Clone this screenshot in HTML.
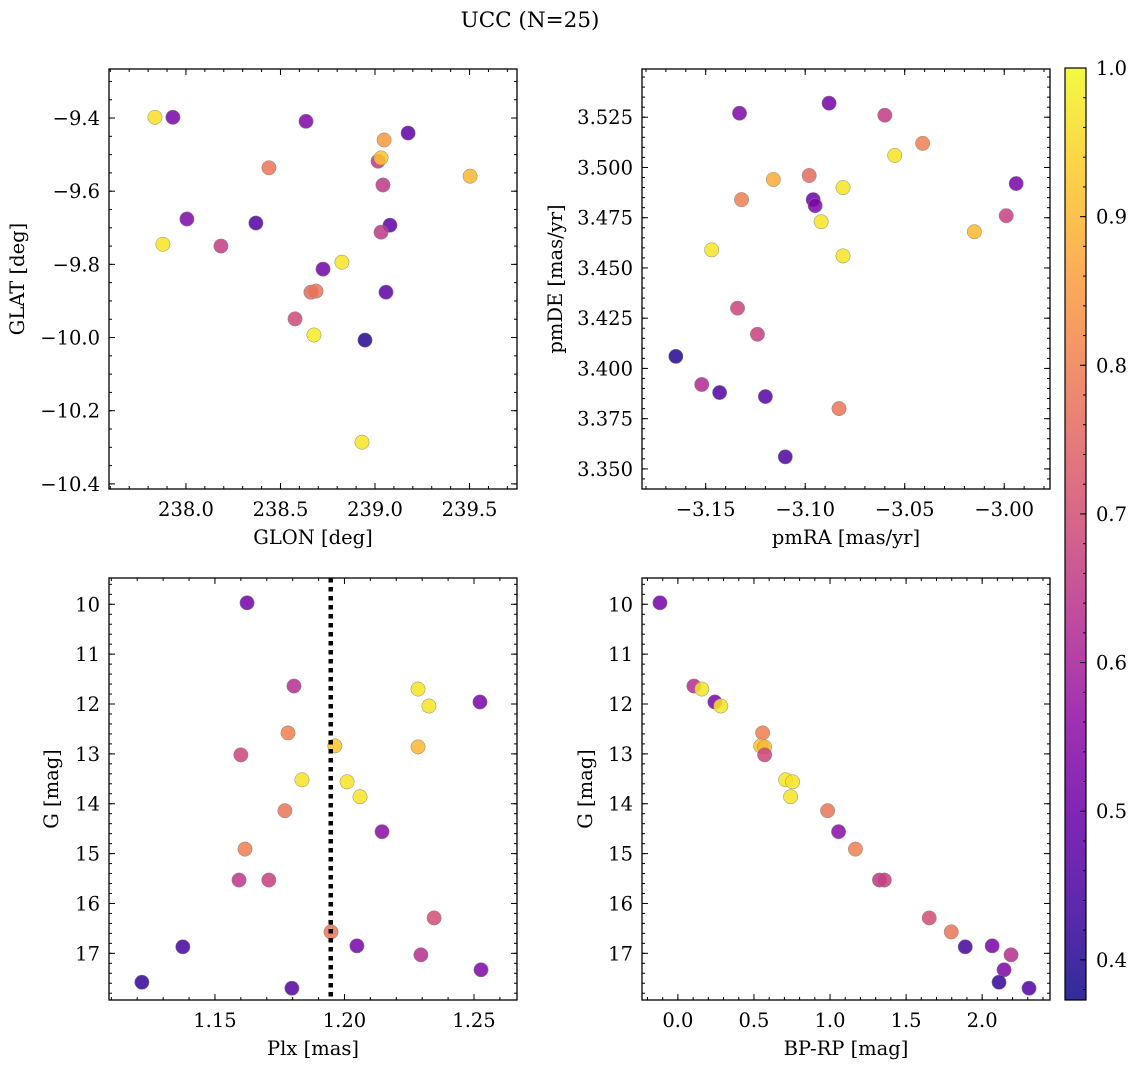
<!DOCTYPE html>
<html><head><meta charset="utf-8"><style>
body{margin:0;background:#fff;}
svg{display:block;font-family:"DejaVu Serif","Liberation Serif",serif;}
</style></head><body>
<svg id="fig" width="1136" height="1068" viewBox="0 0 1136 1068" xmlns="http://www.w3.org/2000/svg">
<defs>
<linearGradient id="plasma" x1="0" y1="1" x2="0" y2="0">
<stop offset="0" stop-color="#0d0887"/><stop offset="0.1" stop-color="#41049d"/><stop offset="0.2" stop-color="#6a00a8"/><stop offset="0.3" stop-color="#8f0da4"/><stop offset="0.4" stop-color="#b12a90"/><stop offset="0.5" stop-color="#cc4778"/><stop offset="0.6" stop-color="#e16462"/><stop offset="0.7" stop-color="#f2844b"/><stop offset="0.8" stop-color="#fca636"/><stop offset="0.9" stop-color="#fcce25"/><stop offset="1" stop-color="#f0f921"/>
</linearGradient>
</defs>
<text x="530" y="27" font-size="21.5" text-anchor="middle">UCC (N=25)</text>
</svg>
<script>
// Panel 1: GLON vs GLAT
const glonX=[237.836,237.931,238.635,239.048,239.175,238.439,239.016,239.032,239.042,239.503,238.005,238.370,239.079,239.032,237.878,238.185,238.825,238.725,238.661,238.688,239.058,238.577,238.677,238.947,238.931];
const glatY=[-9.398,-9.398,-9.409,-9.460,-9.441,-9.536,-9.518,-9.509,-9.583,-9.559,-9.676,-9.687,-9.693,-9.712,-9.745,-9.750,-9.794,-9.813,-9.876,-9.873,-9.876,-9.949,-9.993,-10.007,-10.286];
const probP1=[0.96,0.52,0.53,0.85,0.48,0.78,0.65,0.92,0.65,0.9,0.53,0.46,0.48,0.65,0.97,0.66,0.97,0.51,0.76,0.78,0.48,0.69,0.98,0.40,0.97];
// Panel 2: pmRA vs pmDE
const pmraX=[-3.133,-3.088,-3.060,-3.041,-3.055,-3.116,-3.098,-3.081,-3.132,-3.096,-3.095,-2.994,-2.999,-3.092,-3.147,-3.015,-3.081,-3.134,-3.124,-3.165,-3.152,-3.143,-3.120,-3.083,-3.110];
const pmdeY=[3.527,3.532,3.526,3.512,3.506,3.494,3.496,3.490,3.484,3.484,3.481,3.492,3.476,3.473,3.459,3.468,3.456,3.430,3.417,3.406,3.392,3.388,3.386,3.380,3.356];
const probP2=[0.53,0.51,0.66,0.8,0.97,0.88,0.76,0.97,0.8,0.5,0.53,0.52,0.67,0.97,0.97,0.9,0.97,0.68,0.67,0.40,0.62,0.46,0.47,0.78,0.46];
// Panel 3: Plx vs G
const plxX=[1.1624,1.1805,1.2284,1.2523,1.2326,1.1782,1.1963,1.2284,1.1600,1.1836,1.2010,1.2060,1.1770,1.2145,1.1616,1.1593,1.1708,1.2346,1.1948,1.2048,1.1376,1.2295,1.2527,1.1218,1.1797];
const gY3=[9.97,11.64,11.70,11.96,12.04,12.58,12.84,12.86,13.02,13.52,13.56,13.86,14.14,14.56,14.91,15.53,15.53,16.29,16.57,16.85,16.87,17.03,17.33,17.58,17.70];
const probP3=[0.51,0.63,0.97,0.52,0.97,0.8,0.92,0.9,0.68,0.97,0.97,0.97,0.78,0.55,0.8,0.65,0.67,0.7,0.78,0.52,0.44,0.63,0.53,0.42,0.46];
const plxLine=[1.1947];
// Panel 4: BP-RP vs G
const bprpX=[-0.118,0.105,0.157,0.243,0.282,0.557,0.544,0.570,0.570,0.708,0.754,0.741,0.984,1.056,1.167,1.325,1.357,1.652,1.797,2.066,1.889,2.190,2.144,2.111,2.308];
const gY4=[9.97,11.64,11.70,11.96,12.04,12.58,12.84,12.86,13.02,13.52,13.56,13.86,14.14,14.56,14.91,15.53,15.53,16.29,16.57,16.85,16.87,17.03,17.33,17.58,17.70];
const probP4=[0.51,0.63,0.97,0.52,0.97,0.8,0.92,0.9,0.68,0.97,0.97,0.97,0.78,0.55,0.8,0.65,0.67,0.7,0.78,0.52,0.44,0.63,0.53,0.42,0.46];
// tick labels
const ticks1x=[238.0,238.5,239.0,239.5], ticks1y=[-9.4,-9.6,-9.8,-10.0,-10.2,-10.4];
const ticks2x=[-3.15,-3.10,-3.05,-3.00], ticks2y=[3.350,3.375,3.400,3.425,3.450,3.475,3.500,3.525];
const ticks3x=[1.15,1.20,1.25], ticksGy=[10,11,12,13,14,15,16,17];
const ticks4x=[0.0,0.5,1.0,1.5,2.0];
const cbarTicks=[0.4,0.5,0.6,0.7,0.8,0.9,1.0];

const svg=document.getElementById('fig');
const NS='http://www.w3.org/2000/svg';
const FS=19.5;
const CMIN=0.373,CMAX=1.0;
const stops=[[13,8,135],[65,4,157],[106,0,168],[143,13,164],[177,42,144],[204,71,120],[225,100,98],[242,132,75],[252,166,54],[252,206,37],[240,249,33]];
function plasma(v){let t=Math.max(0,Math.min(1,(v-CMIN)/(CMAX-CMIN)))*10;let i=Math.min(9,Math.floor(t)),f=t-i;const a=stops[i],b=stops[i+1];return 'rgb('+a.map((c,k)=>Math.round(c+(b[k]-c)*f)).join(',')+')';}
function mk(tag,attrs,parent){const e=document.createElementNS(NS,tag);for(const k in attrs)e.setAttribute(k,attrs[k]);(parent||svg).appendChild(e);return e;}
function fmt(v,d){let s=v.toFixed(d);return s.replace('-','\u2212');}

function panel(o){
  const g=mk('g',{});
  
  
  const X=v=>o.x0+(v-o.xd[0])/(o.xd[1]-o.xd[0])*(o.x1-o.x0);
  const Y=v=>o.inv? o.y0+(v-o.yd[0])/(o.yd[1]-o.yd[0])*(o.y1-o.y0) : o.y1-(v-o.yd[0])/(o.yd[1]-o.yd[0])*(o.y1-o.y0);
  const pg=mk('g',{},g);
  
  
  o.xs.forEach((xv,i)=>{
    const c=mk('circle',{cx:X(xv),cy:Y(o.ys[i]),r:7.2,fill:plasma(o.cs[i]),'fill-opacity':0.85,stroke:'#888','stroke-width':0.5},pg);
    
    
  });
  if(o.vline){o.vline.forEach(v=>{const l=mk('line',{x1:X(v),x2:X(v),y1:o.y0,y2:o.y1,stroke:'#000','stroke-width':4.5,'stroke-dasharray':'4.5 4.5'},g);
    
    });}
  const tk=mk('g',{stroke:'#000','stroke-width':1},g);
  function minors(d,step){const a=[];let s=Math.ceil(d[0]/step-1e-9);for(let k=s;k*step<=d[1]+1e-9;k++)a.push(k*step);return a;}
  minors(o.xd,o.xm).forEach(v=>{const x=X(v);mk('line',{x1:x,x2:x,y1:o.y1,y2:o.y1-3},tk);mk('line',{x1:x,x2:x,y1:o.y0,y2:o.y0+3},tk);});
  minors(o.yd,o.ym).forEach(v=>{const y=Y(v);mk('line',{x1:o.x0,x2:o.x0+3,y1:y,y2:y},tk);mk('line',{x1:o.x1,x2:o.x1-3,y1:y,y2:y},tk);});
  o.xt.forEach(v=>{const x=X(v);mk('line',{x1:x,x2:x,y1:o.y1,y2:o.y1-6},tk);mk('line',{x1:x,x2:x,y1:o.y0,y2:o.y0+6},tk);
    const t=mk('text',{x:x,y:o.y1+27,'font-size':FS,'text-anchor':'middle'},g);t.textContent=fmt(v,o.xdec);
    
    });
  o.yt.forEach(v=>{const y=Y(v);mk('line',{x1:o.x0,x2:o.x0+6,y1:y,y2:y},tk);mk('line',{x1:o.x1,x2:o.x1-6,y1:y,y2:y},tk);
    const t=mk('text',{x:o.x0-9,y:y+7,'font-size':FS,'text-anchor':'end'},g);t.textContent=fmt(v,o.ydec);
    
    });
  const fr=mk('rect',{x:o.x0,y:o.y0,width:o.x1-o.x0,height:o.y1-o.y0,fill:'none',stroke:'#000','stroke-width':1.3},g);
  
  
  const xl=mk('text',{x:(o.x0+o.x1)/2,y:o.y1+55,'font-size':FS,'text-anchor':'middle'},g);xl.textContent=o.xlab;
  
  
  const yc=(o.y0+o.y1)/2;
  const yl=mk('text',{x:o.ylx,y:yc,'font-size':FS,'text-anchor':'middle',transform:'rotate(-90 '+o.ylx+' '+yc+')'},g);yl.textContent=o.ylab;
  
  
}
panel({name:'glon-glat-panel',x0:109,x1:517,y0:69,y1:489,xd:[237.593,239.751],yd:[-10.414,-9.266],xs:glonX,ys:glatY,cs:probP1,xt:ticks1x,yt:ticks1y,xm:0.1,ym:0.05,xdec:1,ydec:1,xlab:'GLON [deg]',ylab:'GLAT [deg]',ylx:24});
panel({name:'pm-panel',x0:642,x1:1050,y0:69,y1:489,xd:[-3.182,-2.977],yd:[3.340,3.549],xs:pmraX,ys:pmdeY,cs:probP2,xt:ticks2x,yt:ticks2y,xm:0.01,ym:0.005,xdec:2,ydec:3,xlab:'pmRA [mas/yr]',ylab:'pmDE [mas/yr]',ylx:562});
panel({name:'plx-g-panel',x0:109,x1:517,y0:578,y1:1000,xd:[1.1091,1.2666],yd:[9.473,17.936],inv:true,xs:plxX,ys:gY3,cs:probP3,xt:ticks3x,yt:ticksGy,xm:0.01,ym:0.2,xdec:2,ydec:0,xlab:'Plx [mas]',ylab:'G [mag]',ylx:58,vline:plxLine});
panel({name:'cmd-panel',x0:642,x1:1050,y0:578,y1:1000,xd:[-0.236,2.446],yd:[9.473,17.936],inv:true,xs:bprpX,ys:gY4,cs:probP4,xt:ticks4x,yt:ticksGy,xm:0.1,ym:0.2,xdec:1,ydec:0,xlab:'BP-RP [mag]',ylab:'G [mag]',ylx:592});
const cb=mk('g',{});


const cx0=1065,cx1=1086,cy0=68,cy1=1000;
const CY=v=>cy1-(v-CMIN)/(CMAX-CMIN)*(cy1-cy0);
mk('rect',{x:cx0,y:cy0,width:cx1-cx0,height:cy1-cy0,fill:'url(#plasma)','fill-opacity':0.85},cb);
for(let v=0.38;v<=1.0001;v+=0.02){const y=CY(v);mk('line',{x1:cx1,x2:cx1-3,y1:y,y2:y,stroke:'#000'},cb);}
cbarTicks.forEach(v=>{const y=CY(v);mk('line',{x1:cx1,x2:cx1-6,y1:y,y2:y,stroke:'#000'},cb);
  const t=mk('text',{x:cx1+10,y:y+7,'font-size':FS},cb);t.textContent=v.toFixed(1);
  
  });
mk('rect',{x:cx0,y:cy0,width:cx1-cx0,height:cy1-cy0,fill:'none',stroke:'#000','stroke-width':1.2},cb);
</script>
</body></html>
